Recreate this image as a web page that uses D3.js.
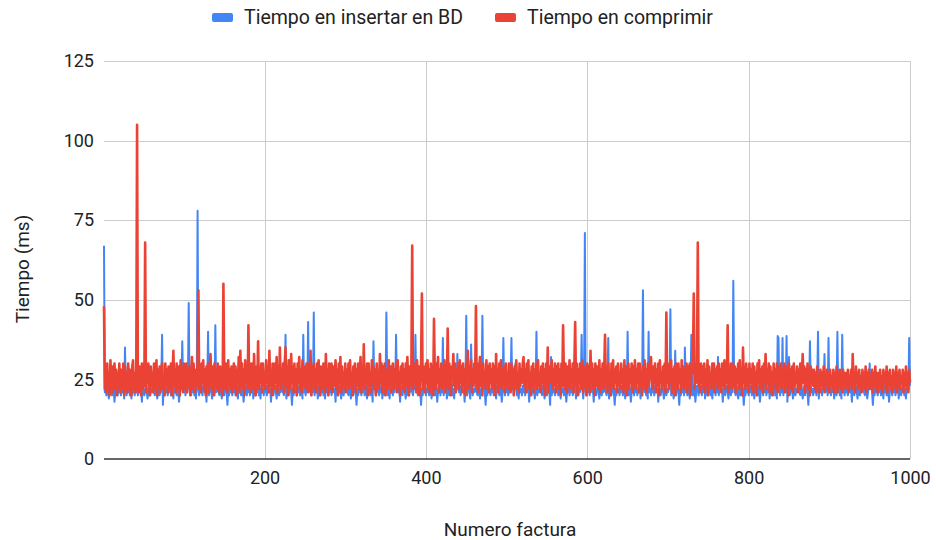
<!DOCTYPE html>
<html>
<head>
<meta charset="utf-8">
<script src="https://cdn.jsdelivr.net/npm/d3@7"></script>
<style>
  html, body { margin: 0; padding: 0; background: #fff; }
  svg { display: block; font-family: Roboto, "Liberation Sans", Arial, sans-serif; }
</style>
</head>
<body>
<svg id="chart" width="936" height="540"></svg>
<script>
// Tiempos por factura (ms), facturas 1..1000
const insertarBD = [
  67,21,23,20,24,22,19,23,21,22,20,23,22,18,21,23,22,20,24,21,
  23,20,22,21,24,19,35,23,20,22,21,24,20,22,19,23,21,22,20,23,
  21,23,20,22,24,21,22,18,23,21,20,22,23,21,19,22,24,20,22,21,
  22,24,21,20,23,22,19,21,23,20,22,24,39,17,22,20,23,21,22,20,
  22,21,23,20,24,22,19,23,21,22,20,23,22,18,21,23,22,37,24,21,
  23,20,22,21,24,49,22,23,20,22,21,24,20,22,19,23,78,22,20,23,
  21,23,20,22,24,21,22,18,23,40,20,22,23,21,19,22,24,20,42,21,
  22,24,21,20,23,22,19,21,23,20,22,24,21,17,22,20,23,21,22,20,
  22,21,23,20,24,22,19,23,21,22,20,23,22,18,21,23,22,20,24,21,
  23,20,22,21,24,19,22,23,20,22,21,24,20,22,19,23,21,22,20,23,
  21,23,20,22,24,21,22,18,23,21,20,22,23,21,19,22,24,20,22,21,
  22,24,21,20,23,39,19,21,23,20,22,24,21,17,22,20,23,21,22,20,
  22,21,23,20,24,22,19,39,21,22,20,23,22,43,21,23,22,20,24,21,
  46,20,22,21,24,19,22,23,20,22,21,24,20,22,19,23,21,22,20,23,
  21,23,20,22,24,21,22,18,23,21,20,22,23,21,19,22,24,20,22,21,
  22,24,21,20,23,22,19,21,23,20,22,24,21,17,22,20,23,21,22,20,
  22,21,23,20,24,22,19,23,21,22,20,23,22,18,37,23,22,20,24,21,
  23,20,22,21,24,19,22,23,20,22,46,24,20,22,19,23,21,22,20,23,
  21,23,39,22,24,21,22,18,23,21,20,22,23,21,19,22,24,20,22,21,
  22,24,21,20,23,22,39,21,23,20,22,24,21,17,22,20,23,21,22,20,
  22,21,23,20,24,22,19,23,21,22,20,23,22,18,21,23,22,20,24,21,
  38,20,22,21,24,19,22,23,20,22,21,24,20,22,19,23,21,22,33,23,
  21,23,20,22,24,21,22,18,23,45,20,22,23,21,19,36,24,20,22,21,
  22,24,21,20,23,22,19,21,23,45,22,24,21,17,22,20,23,21,22,20,
  22,21,23,20,24,22,19,23,21,22,20,23,22,18,21,38,22,20,24,21,
  23,20,22,21,24,38,22,23,20,22,30,24,20,22,19,23,21,22,20,23,
  21,23,20,22,24,21,22,18,23,21,20,22,23,21,19,22,40,20,22,21,
  22,24,21,20,23,22,19,21,23,20,22,24,21,17,32,20,23,21,22,20,
  22,21,23,20,24,22,19,23,21,22,20,23,22,18,21,23,22,20,24,21,
  23,20,22,21,24,19,22,23,20,22,21,24,39,22,19,23,71,22,20,23,
  21,23,20,22,24,21,22,18,23,21,20,22,23,21,19,22,24,20,22,21,
  22,24,21,20,23,38,19,21,23,20,22,24,21,17,22,20,23,21,22,20,
  22,21,23,20,24,22,19,23,21,40,20,23,22,18,21,23,22,20,24,21,
  23,20,22,21,24,19,22,23,53,22,21,24,20,22,19,40,21,22,20,23,
  21,23,20,22,24,21,22,18,23,21,20,22,23,21,19,22,24,20,22,21,
  22,24,47,20,23,22,19,21,34,20,22,24,21,17,22,20,23,21,22,20,
  35,21,23,20,24,22,19,23,39,22,20,23,22,18,21,23,22,20,24,21,
  23,20,22,21,24,19,22,23,20,22,21,24,20,22,19,23,21,22,20,23,
  21,32,20,22,24,21,22,18,23,21,20,22,23,21,19,22,24,20,22,21,
  56,24,21,20,23,22,19,21,23,20,22,24,21,17,22,20,23,21,22,20,
  22,21,23,20,24,22,19,23,21,22,20,23,22,18,21,23,22,20,24,21,
  23,20,22,21,24,19,22,23,20,22,21,24,20,22,19,38.6,38,22,20,23,
  21,38,20,22,24,21,38.6,18,23,32,20,22,23,21,19,22,24,20,22,21,
  22,24,21,20,23,22,19,21,23,20,22,24,21,17,22,37,23,21,22,20,
  22,21,23,20,24,40,19,23,21,22,20,23,22,33,21,23,22,20,38,21,
  23,20,22,21,24,19,22,23,20,40,21,24,20,22,19,39,21,22,20,23,
  21,23,20,22,24,21,22,18,23,21,20,22,23,21,19,22,24,20,22,21,
  22,24,21,20,23,22,19,21,23,30,22,24,21,17,22,20,23,21,22,20,
  22,21,23,20,24,22,19,23,21,22,20,23,22,18,21,23,22,20,24,21,
  23,20,22,21,24,19,22,23,20,22,21,24,20,22,19,23,21,22,38,23
];

const comprimir = [
  48,22,28,21,30,23,27,20,31,22,29,21,26,30,22,28,20,27,23,30,
  21,28,24,22,30,20,29,23,27,21,30,22,28,24,20,29,31,22,27,21,
  28,105,22,21,29,24,20,30,22,27,23,68,21,28,24,30,22,20,29,23,
  27,21,30,24,22,31,20,28,23,29,21,27,30,22,26,20,30,23,28,21,
  29,24,22,30,20,27,34,23,28,21,30,24,22,29,20,31,27,23,21,30,
  26,22,30,21,28,23,29,20,27,32,22,30,24,21,28,23,30,53,22,27,
  21,30,24,31,22,28,20,29,23,30,21,27,33,24,22,29,20,30,23,28,
  22,30,24,21,29,23,27,20,55,28,22,30,24,21,31,23,28,22,29,21,
  27,30,22,29,20,28,24,32,21,34,23,30,22,28,20,31,24,29,22,42,
  23,30,21,30,27,22,33,24,20,29,23,37,22,28,24,30,21,30,23,27,
  22,31,24,29,21,34,23,28,20,30,27,22,30,24,32,21,29,23,35,22,
  28,24,30,21,30,35,23,29,20,31,27,22,33,24,29,21,30,23,28,20,
  30,24,32,22,28,21,31,23,29,27,22,30,24,21,30,23,34,20,29,24,
  30,22,28,21,30,24,31,23,20,29,27,22,30,24,21,33,23,28,20,30,
  24,22,30,21,29,23,27,31,22,28,20,30,24,32,21,29,23,27,22,30,
  21,28,24,30,22,31,23,27,20,29,24,30,21,28,23,30,22,27,32,21,
  29,23,36,22,28,24,30,20,30,23,27,21,31,24,29,22,28,20,30,23,
  27,22,33,24,30,21,29,23,30,20,28,24,22,31,23,29,21,27,30,22,
  28,24,30,21,31,23,27,20,29,24,30,22,28,21,30,23,32,24,20,29,
  23,30,67,22,28,24,30,21,31,23,29,20,27,30,52,22,29,24,21,30,
  24,31,22,28,21,30,23,29,20,44,27,22,30,24,32,21,28,23,30,22,
  29,24,31,21,28,23,41,22,30,24,20,29,27,33,23,30,21,28,24,30,
  22,31,24,29,21,30,23,28,20,30,27,34,22,29,24,31,21,28,23,30,
  24,48,22,30,21,28,32,23,29,20,30,24,27,22,31,23,29,21,30,24,
  28,22,30,23,29,20,33,24,27,21,30,23,31,22,28,24,29,21,30,23,
  27,22,30,24,21,30,23,28,20,29,24,31,22,27,21,30,23,28,24,30,
  32,23,28,21,30,24,31,22,27,20,29,23,30,21,28,24,30,22,31,23,
  27,21,29,24,30,22,28,20,30,23,35,21,29,24,27,31,22,28,23,30,
  21,29,24,30,22,28,20,30,23,42,27,22,30,24,21,29,23,31,22,28,
  24,30,21,29,43,23,30,20,28,24,30,22,27,31,21,29,23,28,20,30,
  23,29,21,34,24,30,22,28,20,30,23,29,27,22,31,21,28,24,30,22,
  28,39,23,29,21,30,24,27,20,30,23,31,22,28,24,29,21,30,23,27,
  22,30,24,28,21,31,23,29,20,27,30,22,28,24,30,21,29,23,31,22,
  28,24,30,21,30,23,27,20,29,24,31,22,28,21,30,23,27,30,32,24,
  22,29,24,30,21,28,23,30,20,31,24,27,22,29,23,30,21,46,24,28,
  22,30,24,31,21,28,23,29,20,30,27,22,30,24,28,21,31,23,29,22,
  28,24,30,21,29,23,30,20,28,27,31,52,22,29,24,30,68,23,28,21,
  30,24,29,22,30,21,28,23,31,20,29,24,27,22,30,23,30,21,28,24,
  29,22,30,24,28,21,30,23,27,31,22,29,24,42,21,28,23,30,22,27,
  30,23,29,21,28,24,30,22,31,23,27,20,35,24,29,22,30,23,28,21,
  30,24,28,22,30,21,29,23,27,20,30,24,31,22,28,23,29,21,30,24,
  33,22,28,24,30,21,29,23,27,20,30,24,28,22,30,21,29,23,27,30,
  22,28,24,30,21,29,23,27,20,30,24,28,22,29,21,30,23,27,24,29,
  21,28,23,30,22,27,33,24,29,21,28,23,30,22,27,20,29,24,28,23,
  28,22,27,21,29,24,26,21,28,23,27,22,29,21,26,24,28,22,27,21,
  28,23,26,22,28,21,27,24,29,21,27,23,28,22,26,21,28,24,27,22,
  27,23,28,21,26,24,28,22,33,23,27,21,29,24,27,22,28,23,26,21,
  28,24,27,22,29,21,27,23,28,22,26,24,28,21,27,23,29,22,27,21,
  27,23,28,22,26,21,28,24,27,22,29,21,27,23,28,22,26,21,28,24,
  27,22,29,21,27,23,28,22,26,24,28,21,27,23,29,22,27,21,28,24
];

const seriesNames = ["Tiempo en insertar en BD", "Tiempo en comprimir"];
const seriesColors = ["#4285F4", "#EA4335"];
const seriesWidths = [2, 2.6];
const xTicks = [200, 400, 600, 800, 1000];
const yTicks = [0, 25, 50, 75, 100, 125];

const svg = d3.select("#chart");
const margin = { left: 104, right: 26, top: 61, bottom: 81 };
const W = 936, H = 540;
const plotW = W - margin.left - margin.right;
const plotH = H - margin.top - margin.bottom;

const x = d3.scaleLinear().domain([1, 1000]).range([margin.left, margin.left + plotW]);
const y = d3.scaleLinear().domain([0, 125]).range([margin.top + plotH, margin.top]);

// grid
const g = svg.append("g");
g.selectAll("line.hgrid").data(yTicks.filter(d => d > 0)).enter().append("line")
  .attr("x1", margin.left).attr("x2", margin.left + plotW)
  .attr("y1", d => Math.round(y(d)) + 0.5).attr("y2", d => Math.round(y(d)) + 0.5)
  .attr("stroke", "#cccccc").attr("stroke-width", 1);
g.selectAll("line.vgrid").data(xTicks).enter().append("line")
  .attr("x1", d => Math.round(x(d)) + 0.5).attr("x2", d => Math.round(x(d)) + 0.5)
  .attr("y1", margin.top).attr("y2", margin.top + plotH)
  .attr("stroke", "#cccccc").attr("stroke-width", 1);

// axis labels
const yAxis = d3.axisLeft(y).tickValues(yTicks).tickSize(0).tickPadding(8);
const yg = svg.append("g").attr("transform", `translate(${margin.left},0)`).call(yAxis);
yg.select(".domain").remove();
yg.selectAll("text").attr("font-size", 18).attr("fill", "#222").attr("font-family", "Roboto, Arial, sans-serif").attr("dx", "-2");

const xAxis = d3.axisBottom(x).tickValues(xTicks).tickFormat(d3.format("d")).tickSize(0).tickPadding(12);
const xg = svg.append("g").attr("transform", `translate(0,${margin.top + plotH})`).call(xAxis);
xg.select(".domain").remove();
xg.selectAll("text").attr("font-size", 18).attr("fill", "#222").attr("font-family", "Roboto, Arial, sans-serif");

// series lines
const line = d3.line().x((d, i) => x(i + 1)).y(d => y(d));
[insertarBD, comprimir].forEach((vals, k) => {
  svg.append("path").datum(vals)
    .attr("fill", "none")
    .attr("stroke", seriesColors[k])
    .attr("stroke-width", seriesWidths[k])
    .attr("stroke-linejoin", "round")
    .attr("d", line);
});

// baseline
svg.append("line")
  .attr("x1", margin.left).attr("x2", margin.left + plotW)
  .attr("y1", y(0)).attr("y2", y(0))
  .attr("stroke", "#333").attr("stroke-width", 1.5);

// axis titles
svg.append("text").attr("x", margin.left + plotW / 2 + 3).attr("y", 536)
  .attr("text-anchor", "middle").attr("font-size", 19).attr("fill", "#222")
  .text("Numero factura");
svg.append("text").attr("transform", `translate(29,269) rotate(-90)`)
  .attr("text-anchor", "middle").attr("font-size", 19).attr("fill", "#222")
  .text("Tiempo (ms)");

// legend
const legendItems = [
  { name: seriesNames[0], color: seriesColors[0], x: 212 },
  { name: seriesNames[1], color: seriesColors[1], x: 495 }
];
const lg = svg.append("g");
legendItems.forEach(it => {
  lg.append("rect").attr("x", it.x).attr("y", 13).attr("width", 21).attr("height", 9)
    .attr("rx", 2).attr("fill", it.color);
  lg.append("text").attr("x", it.x + 32).attr("y", 24).attr("font-size", 19.5)
    .attr("fill", "#222").text(it.name);
});
</script>
</body>
</html>
